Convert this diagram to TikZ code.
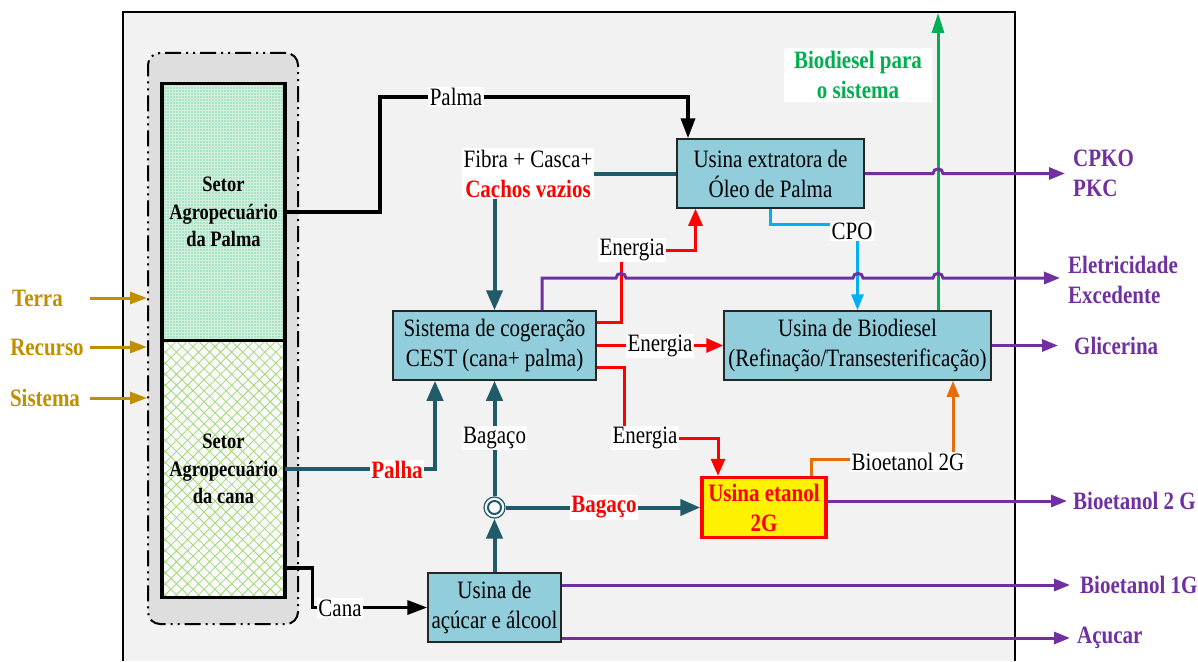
\documentclass[tikz,border=0pt]{standalone}
\usepackage{fontspec}
\setmainfont[FakeStretch=0.84]{Liberation Serif}
\usetikzlibrary{arrows.meta,calc,patterns.meta}

\definecolor{bgpanel}{HTML}{F2F2F2}
\definecolor{boxblue}{HTML}{92CDDC}
\definecolor{flowteal}{HTML}{215A69}
\definecolor{outpurple}{HTML}{7030A0}
\definecolor{enred}{HTML}{FF0000}
\definecolor{cpoblue}{HTML}{00B0F0}
\definecolor{bdgreen}{HTML}{00B050}
\definecolor{bioorange}{HTML}{E46C0A}
\definecolor{goldtxt}{HTML}{BF8F00}
\definecolor{mint}{HTML}{CFF0DC}
\definecolor{dotgreen}{HTML}{3CB878}
\definecolor{hatchgreen}{HTML}{A2D977}
\definecolor{contgray}{HTML}{DEDEDE}

\newcommand\diagfont{\fontsize{25}{30}\selectfont}
\newcommand\sectorfont{\fontsize{22}{27.5}\selectfont}

\tikzset{
  unitbox/.style={draw=black!85, line width=1.5pt, fill=boxblue, align=center,
    font=\diagfont, inner sep=0pt},
  sector/.style={draw=black, line width=3.5pt, minimum width=123pt,
    minimum height=257pt, align=center, font=\sectorfont\bfseries, inner sep=0pt},
  lbl/.style={fill=white, inner sep=1.5pt, font=\diagfont, align=center},
  boldlbl/.style={lbl, font=\diagfont\bfseries},
  outlbl/.style={anchor=west, font=\diagfont\bfseries, text=outpurple,
    align=left, inner ysep=0pt, inner xsep=8pt},
  goldlbl/.style={font=\diagfont\bfseries, text=goldtxt, inner sep=0pt},
  tealflow/.style={draw=flowteal, line width=4pt, -{Triangle[length=20pt,width=16pt]}},
  blkflow/.style={draw=black, line width=3.5pt, -{Triangle[length=20pt,width=14pt]}},
  redflow/.style={draw=enred, line width=3pt, -{Triangle[length=17pt,width=14pt]}},
  cpoflow/.style={draw=cpoblue, line width=3pt, -{Triangle[length=16pt,width=12pt]}},
  orflow/.style={draw=bioorange, line width=3pt, -{Triangle[length=16pt,width=12pt]}},
  grflow/.style={draw=bdgreen, line width=3pt, -{Triangle[length=20pt,width=12pt]}},
  purflow/.style={draw=outpurple, line width=3pt, -{Triangle[length=16pt,width=12pt]}},
  goldflow/.style={draw=goldtxt, line width=3pt, -{Triangle[length=17pt,width=12pt]}},
}

\begin{document}
\begin{tikzpicture}[x=1pt,y=-1pt]
\useasboundingbox (0,0) rectangle (1198,661);

% system boundary panel
\fill[bgpanel] (123,12) rectangle (1015,661);
\draw[line width=1.8pt] (123,661) -- (123,12) -- (1015,12) -- (1015,661);
\coordinate (ftop) at (938,13);
\coordinate (gstart) at (90,0);

% agricultural sectors inside a dash-dot container
\node[draw=black, line width=2pt, rounded corners=12pt, fill=contgray,
      minimum width=150pt, minimum height=571pt,
      dash pattern=on 16pt off 5pt on 2pt off 5pt on 2pt off 5pt] (cont) at (223,338.5) {};
\node[sector, preaction={fill=mint}, pattern={Dots[distance=3pt,radius=0.7pt]},
      pattern color=dotgreen] (palm) at (223.5,212) {Setor\\Agropecuário\\da Palma};
\node[sector, preaction={fill=white!60!bgpanel},
      pattern={Hatch[angle=45,distance=7.8pt,line width=0.8pt]},
      pattern color=hatchgreen] (cane) at (223.5,469) {Setor\\Agropecuário\\da cana};

% processing units
\node[unitbox, minimum width=187pt, minimum height=69pt] (extr) at (770.5,173.5) {Usina extratora de\\Óleo de Palma};
\node[unitbox, minimum width=203pt, minimum height=69pt] (cest) at (494.5,345.5) {Sistema de cogeração\\CEST (cana+ palma)};
\node[unitbox, minimum width=267pt, minimum height=69pt] (biod) at (857.5,345.5) {Usina de Biodiesel\\(Refinação/Transesterificação)};
\node[unitbox, draw=enred, line width=3.5pt, fill=yellow, text=enred, font=\diagfont\bfseries,
      minimum width=124pt, minimum height=60pt] (etan) at (764,507.5) {Usina etanol\\2G};
\node[unitbox, minimum width=133pt, minimum height=69pt] (acuc) at (494.5,607.5) {Usina de\\açúcar e álcool};
\node[circle, draw=flowteal, line width=1.2pt, fill=white, minimum size=21pt, inner sep=0pt] (junc) at (494.5,507.5) {};
\draw[flowteal, line width=2pt] (junc.center) circle (6.5);

% system outputs
\node[outlbl] (cpko) at (1065,173.5) {CPKO\\PKC};
\node[outlbl] (elet) at (1060,280) {Eletricidade\\Excedente};
\node[outlbl, inner xsep=16pt] (glic) at (1058,345.5) {Glicerina};
\node[outlbl, inner xsep=6pt] (bio2) at (1067,501) {Bioetanol 2 G};
\node[outlbl, inner xsep=10pt] (bio1) at (1070,585) {Bioetanol 1G};
\node[outlbl, inner xsep=7pt] (acu) at (1070,638) {Açucar};

% inputs
\node[goldlbl] (terra) at (37.5,298) {Terra};
\node[goldlbl] (recurso) at (47,347) {Recurso};
\node[goldlbl] (sistema) at (45,398) {Sistema};
\foreach \n in {terra,recurso,sistema}
  \draw[goldflow] (gstart |- \n) -- (cont.west |- \n);

% biomass flows
\draw[blkflow] (palm.east) -| (380,97) -| ($(extr.north)+(-82.5,0)$);
\draw[blkflow] ($(cane.east)+(0,99)$) -- ++(27,0) |- (acuc.west);
\draw[tealflow] (extr.west) -| (cest.north);
\draw[tealflow] (cane.east) -| ($(cest.south)+(-59.5,0)$);
\draw[tealflow] (acuc.north) -- (junc.south);
\draw[tealflow] (junc.north) -- (cest.south);
\draw[tealflow] (junc.east) -- (etan.west);

% energy flows
\draw[redflow] ($(cest.east)+(0,-23.5)$) -| (621,250) -| ($(extr.south)+(-75,0)$);
\draw[redflow] (cest.east) -- (biod.west);
\draw[redflow] ($(cest.east)+(0,22)$) -| (624,438) -| ($(etan.north)+(-46,0)$);

% oil and ethanol to the biodiesel plant
\draw[cpoflow] (extr.south) -- ++(0,16) -| (biod.north);
\draw[orflow] ($(etan.north)+(47,0)$) -- ++(0,-16.5) -| ($(biod.south)+(95.5,0)$);
\draw[grflow] ($(biod.north)+(80.5,0)$) -- (ftop);

% products leaving the system (hops where lines cross)
\draw[purflow] ($(cest.north)+(47.5,0)$) -- (542,278) -- (616,278)
  .. controls (616,272) and (626,272) .. (626,278) -- (853,278)
  .. controls (853,272) and (863,272) .. (863,278) -- (933,278)
  .. controls (933,272) and (943,272) .. (943,278) -- ($(elet.west)+(0,-2)$);
\draw[purflow] (extr.east) -- (933,173.5)
  .. controls (933,167.5) and (943,167.5) .. (943,173.5) -- (cpko.west);
\draw[purflow] (biod.east) -- (glic.west);
\draw[purflow] ($(etan.east)+(0,-6.5)$) -- (bio2.west);
\draw[purflow] ($(acuc.east)+(0,-22.5)$) -- (bio1.west);
\draw[purflow] ($(acuc.east)+(0,30.5)$) -- (acu.west);

% flow labels
\node[lbl] (lpalma) at (456,97) {Palma};
\node[lbl] (lfibra) at (528,173.5) {Fibra + Casca+\\\textcolor{enred}{\bfseries Cachos vazios}};
\node[lbl] (len1) at (632,250) {Energia};
\node[lbl] (len2) at (660,346) {Energia};
\node[lbl] (len3) at (645,438) {Energia};
\node[lbl] (lcpo) at (852,231) {CPO};
\node[lbl] (lb2g) at (908,462) {Bioetanol 2G};
\node[lbl] (lbag1) at (494.5,438) {Bagaço};
\node[boldlbl, text=enred] (lbag2) at (604,507.5) {Bagaço};
\node[boldlbl, text=enred] (lpalha) at (397,470) {Palha};
\node[lbl] (lcana) at (340,608) {Cana};
\node[boldlbl, text=bdgreen, inner xsep=10pt, inner ysep=3pt] (lbd) at (858,75) {Biodiesel para\\o sistema};
\end{tikzpicture}
\end{document}
